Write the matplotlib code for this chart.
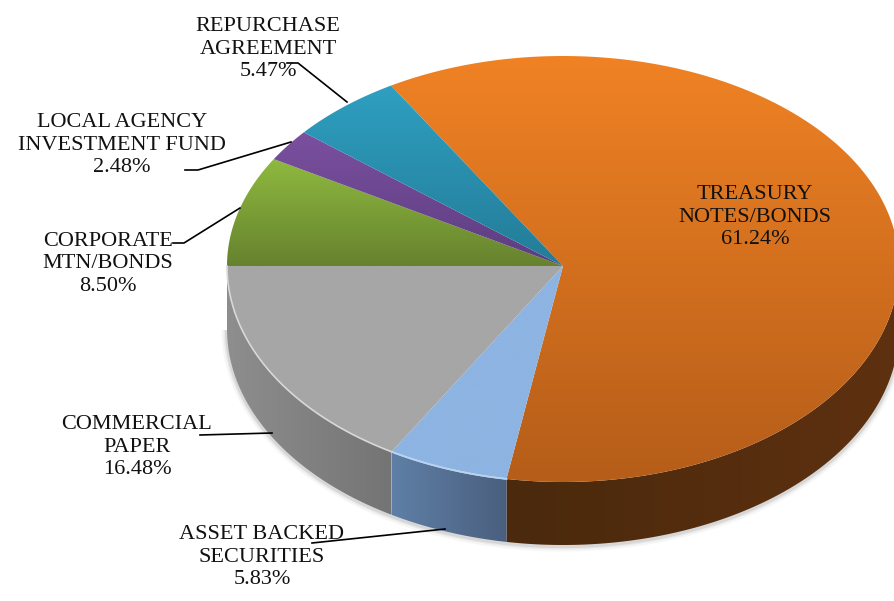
import numpy as np
import matplotlib
matplotlib.use('Agg')
import matplotlib.pyplot as plt
from matplotlib.colors import LinearSegmentedColormap
from matplotlib.patches import Polygon

names = ['TREASURY\nNOTES/BONDS', 'ASSET BACKED\nSECURITIES', 'COMMERCIAL\nPAPER',
         'CORPORATE\nMTN/BONDS', 'LOCAL AGENCY\nINVESTMENT FUND', 'REPURCHASE\nAGREEMENT']
values = [61.24, 5.83, 16.48, 8.50, 2.48, 5.47]

top_colors = [('#F08224', '#B55D19'), ('#8DB4E2', '#8DB4E2'), ('#A6A6A6', '#A6A6A6'),
              ('#8FB93F', '#66822E'), ('#7B509F', '#5C3D80'), ('#2F9FC1', '#237C97')]
side_colors = [('#4A290C', '#5E3110'), ('#5F7FA6', '#4A5F7E'), ('#8E8E8E', '#747474'),
               ('#6b8a30', '#66822E'), ('#5C3D80', '#5C3D80'), ('#237C97', '#237C97')]
label_xy = [(755, 217), (262, 557), (137, 447), (108, 264), (122, 145), (268, 49)]
leaders = [None,
           [(312, 543), (445, 529)],
           [(200, 435), (272, 433)],
           [(173, 243), (184, 243), (240, 208)],
           [(185, 170), (198, 170), (291, 142)],
           [(287, 63), (298, 63), (347, 102)]]

cx, cy = 563, 266
rx, r_up, r_down = 336, 210, 216
depth = 63
start = 120.78


def rim(a):
    a = np.radians(a)
    s = np.sin(a)
    return cx + rx * np.cos(a), cy - np.where(s > 0, r_up, r_down) * s


def gradient(ax, poly, c1, c2, ext, vertical=True):
    cmap = LinearSegmentedColormap.from_list('g', [c1, c2])
    g = np.linspace(0, 1, 256)
    g = g.reshape(-1, 1) if vertical else g.reshape(1, -1)
    im = ax.imshow(g, cmap=cmap, extent=ext, aspect='auto', zorder=3, interpolation='bilinear')
    patch = Polygon(poly, transform=ax.transData, closed=True)
    im.set_clip_path(patch)


plt.rcParams['font.family'] = ['Liberation Serif', 'DejaVu Serif']
fig = plt.figure(figsize=(8.95, 6.01), dpi=100)
ax = fig.add_axes([0, 0, 1, 1])

# soft shadow under the rim
sa = np.linspace(0, -180, 200)
sx, sy = rim(sa)
for w, al in [(8, 0.05), (5, 0.08), (3, 0.12)]:
    ax.plot(sx, sy + depth + 1, color='#555555', lw=w, alpha=al, zorder=1, solid_capstyle='butt')

edges = start - np.cumsum([0] + values) * 3.6
for i in range(len(values)):
    a0, a1 = edges[i], edges[i + 1]

    # side wall, only where the rim faces the viewer
    lo, hi = max(a1, -180), min(a0, 0)
    if a0 > 180:
        lo = a1
    if hi > lo:
        a = np.linspace(hi, lo, 120)
        x, y = rim(a)
        poly = np.r_[np.c_[x, y], np.c_[x[::-1], y[::-1] + depth]]
        gradient(ax, poly, side_colors[i][0], side_colors[i][1],
                 [x.min(), x.max(), cy + r_down + depth, cy], vertical=False) if False else None
        c1, c2 = side_colors[i]
        gradient(ax, poly, c2, c1, [x.max(), x.min(), cy + r_down + depth, cy], vertical=False)

for i in range(len(values)):
    a0, a1 = edges[i], edges[i + 1]
    a = np.linspace(a0, a1, 200)
    x, y = rim(a)
    poly = np.r_[[[cx, cy]], np.c_[x, y]]
    ymin, ymax = poly[:, 1].min(), poly[:, 1].max()
    gradient(ax, poly, top_colors[i][0], top_colors[i][1], [x.min() - 1, max(x.max(), cx) + 1, ymax, ymin])

# pale highlight along the front of the top face
a = np.linspace(edges[1], -180, 150)
x, y = rim(a)
ax.plot(x, y, color='#D8D8D8', lw=1.2, zorder=4)
a = np.linspace(edges[1], edges[2], 60)
x, y = rim(a)
ax.plot(x, y, color='#B5D3F5', lw=1.2, zorder=4)

for i, name in enumerate(names):
    ax.text(label_xy[i][0], label_xy[i][1], f'{name}\n{values[i]:.2f}%', ha='center', va='center',
            fontsize=16, color='#111111', linespacing=1.22, zorder=6)
    if leaders[i]:
        pts = np.array(leaders[i])
        ax.plot(pts[:, 0], pts[:, 1], color='black', lw=1.2, zorder=5)

ax.set_xlim(0, 895)
ax.set_ylim(601, 0)
ax.axis('off')
fig.savefig('out.png', dpi=100, facecolor='white')
